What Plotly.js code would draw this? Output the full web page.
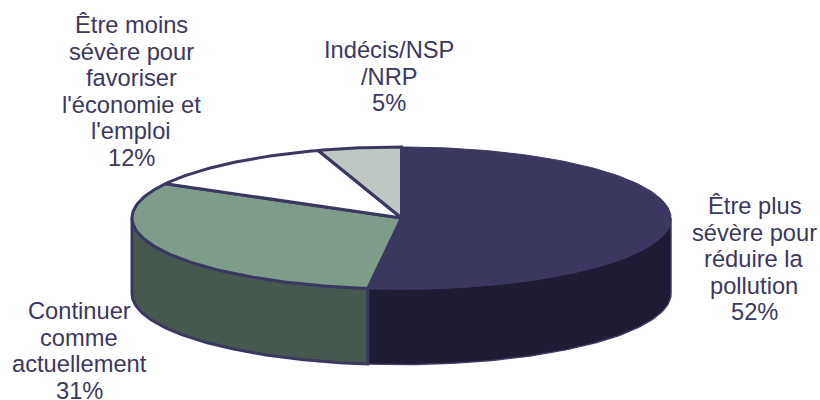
<!DOCTYPE html>
<html><head><meta charset="utf-8">
<script src="https://cdn.plot.ly/plotly-3.0.1.min.js"></script>
<style>html,body{margin:0;padding:0;background:#fff}#c{width:820px;height:400px}</style></head>
<body><div id="c"></div>
<script>
const categories = ["Être plus sévère pour réduire la pollution","Continuer comme actuellement","Être moins sévère pour favoriser l'économie et l'emploi","Indécis/NSP /NRP"];
const values = [52,31,12,5];
const labelLines = [
  ["Être plus","sévère pour","réduire la","pollution","52%"],
  ["Continuer","comme","actuellement","31%"],
  ["Être moins","sévère pour","favoriser","l'économie et","l'emploi","12%"],
  ["Indécis/NSP","/NRP","5%"]
];
const topColors = ["#3b3860","#7f9b8a","#ffffff","#bfc7c3"];
const sideColors = ["#1e1c33","#47594e","#ffffff","#bfc7c3"];
const outline = "#3b3860";

// layout of the tilted pie and labels
const cx=401.5, cy=218, rx=269.5, ry=71, depth=75.5;
const labelCenterX=[754,79,131,389], labelFirstY=[206,311,25,50], lineStep=26.5;

function pt(deg,dy){const a=deg*Math.PI/180;return [cx+rx*Math.sin(a), cy-ry*Math.cos(a)+(dy||0)];}
function arc(a,b,dy){const out=[];const n=Math.max(2,Math.ceil(Math.abs(b-a)));for(let i=0;i<=n;i++)out.push(pt(a+(b-a)*i/n,dy));return out;}
function poly(points,fill,w,lc){return {type:"scatter",mode:"lines",x:points.map(p=>p[0]),y:points.map(p=>p[1]),fill:"toself",fillcolor:fill,line:{color:lc||outline,width:w},hoverinfo:"skip",showlegend:false};}

const total=values.reduce((a,b)=>a+b,0);
const traces=[];
let start=0; const spans=values.map(v=>{const s=[start,start+v/total*360];start=s[1];return s;});
// walls: visible only on the front half of the rim (90 to 270 degrees)
spans.forEach((s,i)=>{
  const a=Math.max(s[0],90), b=Math.min(s[1],270);
  if(b>a){traces.push(poly(arc(a,b,0).concat(arc(b,a,depth)).concat([pt(a,0)]),sideColors[i],i===0?1.5:3,i===0?"#3f3c66":outline));}
});
// top faces
spans.forEach((s,i)=>{
  traces.push(poly([[cx,cy]].concat(arc(s[0],s[1],0)).concat([[cx,cy]]),topColors[i],i===0?1:3));
});

const annotations=[];
labelLines.forEach((lines,i)=>lines.forEach((t,j)=>annotations.push({
  x:labelCenterX[i],y:labelFirstY[i]+j*lineStep,xref:"x",yref:"y",text:t,showarrow:false,
  xanchor:"center",yanchor:"middle",font:{family:"Liberation Sans, Arial, sans-serif",size:23.7,color:outline}
})));

Plotly.newPlot("c",traces,{
  width:820,height:400,margin:{l:0,r:0,t:0,b:0},paper_bgcolor:"#fff",plot_bgcolor:"#fff",showlegend:false,
  xaxis:{range:[0,820],visible:false,fixedrange:true},
  yaxis:{range:[400,0],visible:false,fixedrange:true},
  annotations:annotations
},{displayModeBar:false,staticPlot:true});
</script></body></html>
